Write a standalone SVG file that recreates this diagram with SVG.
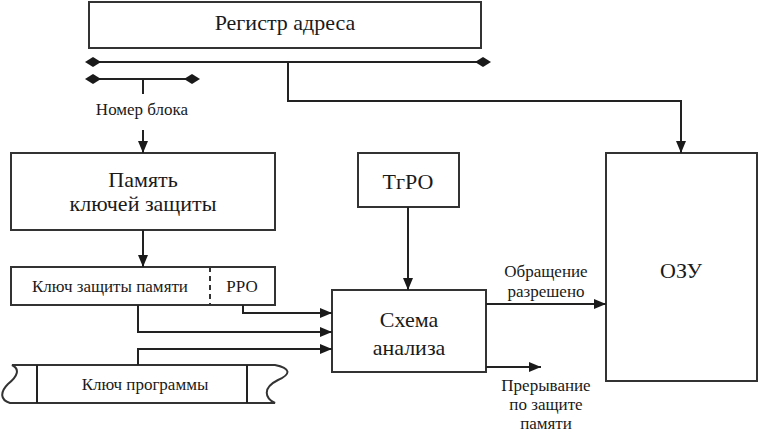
<svg xmlns="http://www.w3.org/2000/svg" width="758" height="433" viewBox="0 0 758 433" font-family="'Liberation Serif', 'DejaVu Serif', 'Times New Roman', serif">
<defs>
<marker id="ah" markerWidth="12" markerHeight="10" refX="12" refY="5" orient="auto" markerUnits="userSpaceOnUse"><path d="M0,0 L12,5 L0,10 Z" fill="#1a1a1a"/></marker>
<marker id="dm" markerWidth="16" markerHeight="10" refX="8" refY="5" orient="auto" markerUnits="userSpaceOnUse"><path d="M0,5 L8,0 L16,5 L8,10 Z" fill="#1a1a1a"/></marker>
</defs>
<style>
.b{fill:#fff;stroke:#333;stroke-width:2}
.l{fill:none;stroke:#222;stroke-width:2}
.a{fill:none;stroke:#222;stroke-width:2;marker-end:url(#ah)}
text{font-family:'Liberation Serif','DejaVu Serif','Times New Roman',serif;fill:#1a1a1a;text-anchor:middle}
.t20{font-size:22px}
.t15{font-size:17px}
</style>
<rect width="758" height="433" fill="#fff"/>
<g id="register"><rect class="b" x="89" y="2" width="392" height="46"/><text class="t20" x="285" y="30">Регистр адреса</text></g>
<g id="memory"><rect class="b" x="11" y="153" width="264" height="77"/><text class="t20" x="143" y="187">Память</text><text class="t20" x="143" y="211">ключей защиты</text></g>
<g id="keyreg"><rect class="b" x="11" y="267" width="264" height="38"/><line x1="210" y1="267" x2="210" y2="305" stroke="#333" stroke-width="2" stroke-dasharray="5,4"/><text class="t15" x="110" y="292">Ключ защиты памяти</text><text class="t15" x="242" y="292">РРО</text></g>
<g id="progkey"><path class="b" d="M12,365 L275,365 C290,368 292,374 278,380 C262,388 265,398 275,403 L10,403 C0,400 0,392 8,384 C18,376 20,369 12,365 Z"/><line class="l" x1="37" y1="365" x2="37" y2="403"/><line class="l" x1="247" y1="365" x2="247" y2="403"/><text class="t15" x="145" y="390">Ключ программы</text></g>
<g id="trpo"><rect class="b" x="358" y="153" width="101" height="54"/><text class="t20" x="408" y="189">ТгРО</text></g>
<g id="analysis"><rect class="b" x="332" y="290" width="154" height="82"/><text class="t20" x="409" y="327">Схема</text><text class="t20" x="409" y="355">анализа</text></g>
<g id="ozu"><rect class="b" x="606" y="153" width="151" height="228"/><text class="t20" x="681" y="278">ОЗУ</text></g>
<g id="connectors">
<line class="l" x1="93" y1="62" x2="483" y2="62" marker-start="url(#dm)" marker-end="url(#dm)"/>
<line class="l" x1="93" y1="79" x2="192" y2="79" marker-start="url(#dm)" marker-end="url(#dm)"/>
<line class="l" x1="143" y1="79" x2="143" y2="94"/>
<text class="t15" x="142" y="115">Номер блока</text>
<line class="a" x1="143" y1="130" x2="143" y2="153"/>
<polyline class="a" points="288,62 288,101 681,101 681,153"/>
<line class="a" x1="143" y1="230" x2="143" y2="267"/>
<polyline class="a" points="243,305 243,313 332,313"/>
<polyline class="a" points="138,305 138,332 332,332"/>
<polyline class="a" points="138,365 138,349 332,349"/>
<line class="a" x1="408" y1="207" x2="408" y2="290"/>
<line class="a" x1="486" y1="304" x2="606" y2="304"/>
<line class="a" x1="486" y1="367" x2="541" y2="367"/>
<text class="t15" x="546" y="277">Обращение</text>
<text class="t15" x="546" y="297">разрешено</text>
<text class="t15" x="546" y="391">Прерывание</text>
<text class="t15" x="546" y="410">по защите</text>
<text class="t15" x="546" y="429">памяти</text>
</g>
</svg>
